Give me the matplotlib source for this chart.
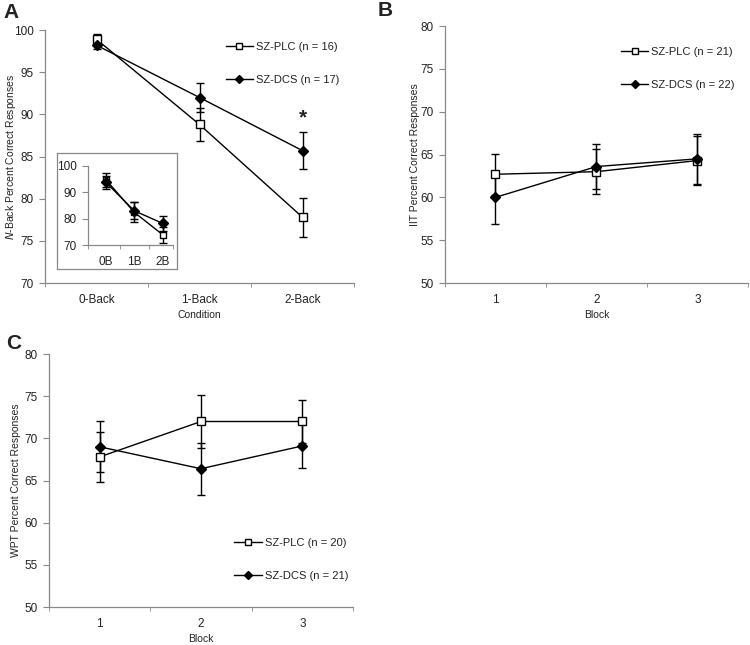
import numpy as np
import matplotlib.pyplot as plt
from matplotlib.lines import Line2D

plt.rcParams['font.family'] = ['Liberation Sans', 'DejaVu Sans']
plt.rcParams['text.color'] = '#222222'
plt.rcParams['axes.labelcolor'] = '#222222'
plt.rcParams['xtick.color'] = '#888888'
plt.rcParams['ytick.color'] = '#888888'
plt.rcParams['xtick.labelcolor'] = '#222222'
plt.rcParams['ytick.labelcolor'] = '#222222'

# Panel A: N-back
nback_cond = ['0-Back', '1-Back', '2-Back']
nback_plc = [98.9, 88.8, 77.8]
nback_plc_err = [0.6, 1.9, 2.3]
nback_dcs = [98.2, 92.0, 85.7]
nback_dcs_err = [0.5, 1.7, 2.2]

# inset
inset_cond = ['0B', '1B', '2B']
inset_plc = [94.8, 82.4, 73.9]
inset_plc_err = [2.6, 3.8, 3.0]
inset_dcs = [93.8, 83.0, 78.2]
inset_dcs_err = [2.4, 3.3, 2.9]

# Panel B: IIT
blocks = ['1', '2', '3']
iit_plc = [62.7, 63.0, 64.3]
iit_plc_err = [2.4, 2.6, 2.9]
iit_dcs = [60.0, 63.6, 64.5]
iit_dcs_err = [3.1, 2.6, 2.9]

# Panel C: WPT
wpt_plc = [67.8, 72.0, 72.0]
wpt_plc_err = [3.0, 3.2, 2.6]
wpt_dcs = [69.0, 66.4, 69.1]
wpt_dcs_err = [3.0, 3.1, 2.6]

TICK_FS = 8.5
LAB_FS = 7.5
LEG_FS = 8


def draw_series(ax, y_plc, e_plc, y_dcs, e_dcs, ms=5.6):
    x = np.arange(1, len(y_plc) + 1)
    ax.errorbar(x, y_plc, yerr=e_plc, fmt='none', ecolor='black',
                elinewidth=1, capsize=3, capthick=1, zorder=2)
    ax.errorbar(x, y_dcs, yerr=e_dcs, fmt='none', ecolor='black',
                elinewidth=1, capsize=3, capthick=1, zorder=2)
    ax.plot(x, y_plc, color='black', lw=1, marker='s', ms=ms, mfc='white',
            mec='black', mew=1, zorder=3)
    ax.plot(x, y_dcs, color='black', lw=1, marker='D', ms=ms,
            mfc='black', mec='black', zorder=4)


def style_axes(ax, labels, ylim, yticks, fs=TICK_FS):
    for s in ['top', 'right']:
        ax.spines[s].set_visible(False)
    for s in ['left', 'bottom']:
        ax.spines[s].set_color('#888888')
        ax.spines[s].set_linewidth(0.9)
    n = len(labels)
    ax.set_xlim(0.5, n + 0.5)
    ax.set_ylim(*ylim)
    ax.set_yticks(yticks)
    ax.set_xticks(np.arange(1, n + 1))
    ax.set_xticklabels(labels)
    ax.set_xticks(np.arange(0.5, n + 1), minor=True)
    ax.tick_params(axis='x', which='major', length=0, pad=8, labelsize=fs)
    ax.tick_params(axis='x', which='minor', length=3, direction='out')
    ax.tick_params(axis='y', length=4, labelsize=fs, pad=4)


def add_legend(ax, labels, anchor, loc):
    h1 = Line2D([], [], color='black', lw=1, marker='s', ms=5, mfc='white',
                mec='black', mew=1)
    h2 = Line2D([], [], color='black', lw=1, marker='D', ms=4.5, mfc='black')
    leg = ax.legend([h1, h2], labels, loc=loc, bbox_to_anchor=anchor,
                    frameon=False, handlelength=2.5, labelspacing=2.1,
                    fontsize=LEG_FS, handletextpad=0.25, borderaxespad=0)
    return leg


fig = plt.figure(figsize=(7.5, 6.45), dpi=100)

# A
axA = fig.add_axes([0.06, 0.5612, 0.412, 0.3922])
draw_series(axA, nback_plc, nback_plc_err, nback_dcs, nback_dcs_err)
style_axes(axA, nback_cond, (70, 100), [70, 75, 80, 85, 90, 95, 100])
axA.set_xlabel('Condition', fontsize=LAB_FS, labelpad=3)
axA.set_ylabel('$\\it{N}$-Back Percent Correct Responses', fontsize=LAB_FS)
axA.yaxis.set_label_coords(-0.087, 0.5)
add_legend(axA, ['SZ-PLC (n = 16)', 'SZ-DCS (n = 17)'], (0.57, 0.972), 'upper left')
axA.text(3, 89.6, '*', ha='center', va='center', fontsize=15, fontweight='bold')

# inset box
box = fig.add_axes([0.0756, 0.5825, 0.16, 0.1798])
box.set_xticks([])
box.set_yticks([])
for s in box.spines.values():
    s.set_color('#888888')
    s.set_linewidth(0.9)
box.patch.set_facecolor('white')

axI = fig.add_axes([0.1173, 1 - 245 / 645, 0.1133, 79 / 645])
draw_series(axI, inset_plc, inset_plc_err, inset_dcs, inset_dcs_err, ms=5)
style_axes(axI, inset_cond, (70, 100), [70, 80, 90, 100], fs=TICK_FS)
axI.set_xlim(0.37, 3.36)
axI.set_xticks([0.37, 1.5, 2.5, 3.36], minor=True)

# B
axB = fig.add_axes([0.5933, 0.5612, 0.404, 0.3984])
draw_series(axB, iit_plc, iit_plc_err, iit_dcs, iit_dcs_err)
style_axes(axB, blocks, (50, 80), [50, 55, 60, 65, 70, 75, 80])
axB.set_xlabel('Block', fontsize=LAB_FS, labelpad=3)
axB.set_ylabel('IIT Percent Correct Responses', fontsize=LAB_FS)
axB.yaxis.set_label_coords(-0.083, 0.5)
add_legend(axB, ['SZ-PLC (n = 21)', 'SZ-DCS (n = 22)'], (0.565, 0.937), 'upper left')

# C
axC = fig.add_axes([0.0653, 0.0589, 0.4053, 0.3922])
draw_series(axC, wpt_plc, wpt_plc_err, wpt_dcs, wpt_dcs_err)
style_axes(axC, blocks, (50, 80), [50, 55, 60, 65, 70, 75, 80])
axC.set_xlabel('Block', fontsize=LAB_FS, labelpad=3)
axC.set_ylabel('WPT Percent Correct Responses', fontsize=LAB_FS)
axC.yaxis.set_label_coords(-0.092, 0.5)
add_legend(axC, ['SZ-PLC (n = 20)', 'SZ-DCS (n = 21)'], (0.595, 0.085), 'lower left')

fig.text(0.004, 0.995, 'A', fontsize=15, fontweight='bold', va='top')
fig.text(0.503, 0.998, 'B', fontsize=15, fontweight='bold', va='top')
fig.text(0.008, 0.482, 'C', fontsize=15, fontweight='bold', va='top')

fig.savefig('out.png', dpi=100, facecolor='white')
